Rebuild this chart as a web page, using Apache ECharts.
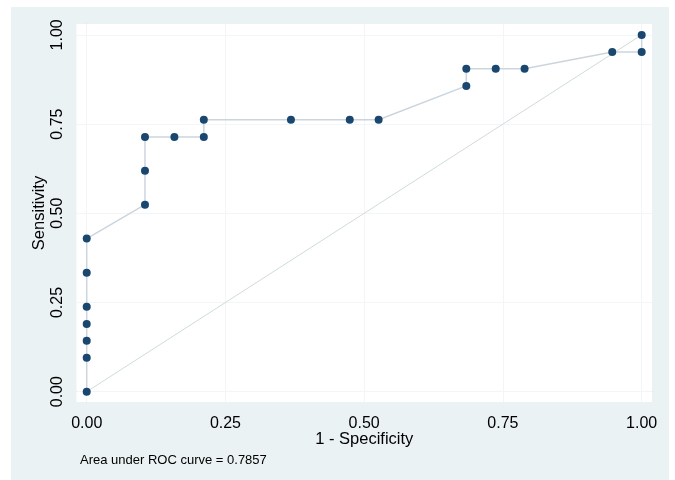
<!DOCTYPE html>
<html>
<head>
<meta charset="utf-8">
<script src="https://cdn.jsdelivr.net/npm/echarts@6/dist/echarts.min.js"></script>
<style>
html,body{margin:0;padding:0;background:#fff;}
#chart{width:675px;height:480px;}
</style>
</head>
<body>
<div id="chart"></div>
<script>
// 1 - Specificity (x) and Sensitivity (y) of the ROC points
var rocX = [0, 0, 0, 0, 0, 0, 0, 0.105, 0.105, 0.105, 0.158, 0.211, 0.211, 0.368, 0.474, 0.526, 0.684, 0.684, 0.737, 0.789, 0.947, 1, 1];
var rocY = [0, 0.095, 0.143, 0.190, 0.238, 0.333, 0.429, 0.524, 0.619, 0.714, 0.714, 0.714, 0.762, 0.762, 0.762, 0.762, 0.857, 0.905, 0.905, 0.905, 0.952, 0.952, 1];
var refX = [0, 1];
var refY = [0, 1];
var tickValues = [0, 0.25, 0.5, 0.75, 1];
var xTitle = '1 - Specificity';
var yTitle = 'Sensitivity';
var note = 'Area under ROC curve = 0.7857';

var rocData = rocX.map(function (x, i) { return [x, rocY[i]]; });
var refData = refX.map(function (x, i) { return [x, refY[i]]; });

var chart = echarts.init(document.getElementById('chart'), null, {renderer: 'canvas'});
var font = '"Liberation Sans", Arial, Helvetica, sans-serif';
var gridLineStyle = {color: '#f3f6f7', width: 1, type: 'solid'};

var option = {
  backgroundColor: '#ffffff',
  animation: false,
  graphic: [
    {type: 'rect', z: -100, silent: true, shape: {x: 11, y: 7, width: 658, height: 473}, style: {fill: '#eaf2f3'}},
    {type: 'text', left: 80, top: 454, style: {text: note, fill: '#000', font: '13px ' + font}}
  ],
  grid: {left: 76.5, right: 23, top: 24, bottom: 78, show: true, backgroundColor: '#ffffff', borderWidth: 0},
  xAxis: {
    type: 'value', min: -0.0184, max: 1.0186,
    name: xTitle, nameLocation: 'middle', nameGap: 29, nameMoveOverlap: false,
    nameTextStyle: {color: '#000', fontSize: 16.5, fontFamily: font},
    axisLine: {show: true, lineStyle: {color: '#d5dbdf', width: 1}},
    axisTick: {show: true, customValues: tickValues, length: 6, lineStyle: {color: '#c8ced2'}},
    axisLabel: {show: true, customValues: tickValues, color: '#000', fontSize: 16, fontFamily: font, margin: 14,
      formatter: function (v) { return v.toFixed(2); }},
    splitLine: {show: false}
  },
  yAxis: {
    type: 'value', min: -0.0289, max: 1.0305,
    name: yTitle, nameLocation: 'middle', nameGap: 29, nameRotate: 90, nameMoveOverlap: false,
    nameTextStyle: {color: '#000', fontSize: 16.5, fontFamily: font},
    axisLine: {show: true, lineStyle: {color: '#d5dbdf', width: 1}},
    axisTick: {show: true, customValues: tickValues, length: 7, lineStyle: {color: '#c8ced2'}},
    axisLabel: {show: true, customValues: tickValues, color: '#000', fontSize: 16, fontFamily: font, rotate: 90, margin: 19,
      verticalAlign: 'middle',
      formatter: function (v) { return v.toFixed(2); }},
    splitLine: {show: false}
  },
  series: [
    {
      type: 'line', name: 'ref', data: refData, symbol: 'none', z: 2,
      lineStyle: {color: '#cfdcdc', width: 1},
      markLine: {
        silent: true, symbol: 'none', label: {show: false}, lineStyle: gridLineStyle, z: 1,
        data: tickValues.map(function (v) { return {xAxis: v}; }).concat(tickValues.map(function (v) { return {yAxis: v}; }))
      }
    },
    {
      type: 'line', name: 'roc', data: rocData, z: 3,
      symbol: 'circle', symbolSize: 8, showAllSymbol: true,
      itemStyle: {color: '#1a476f', borderWidth: 0},
      lineStyle: {color: '#cbd5de', width: 1.5}
    }
  ]
};
chart.setOption(option);
</script>
</body>
</html>
